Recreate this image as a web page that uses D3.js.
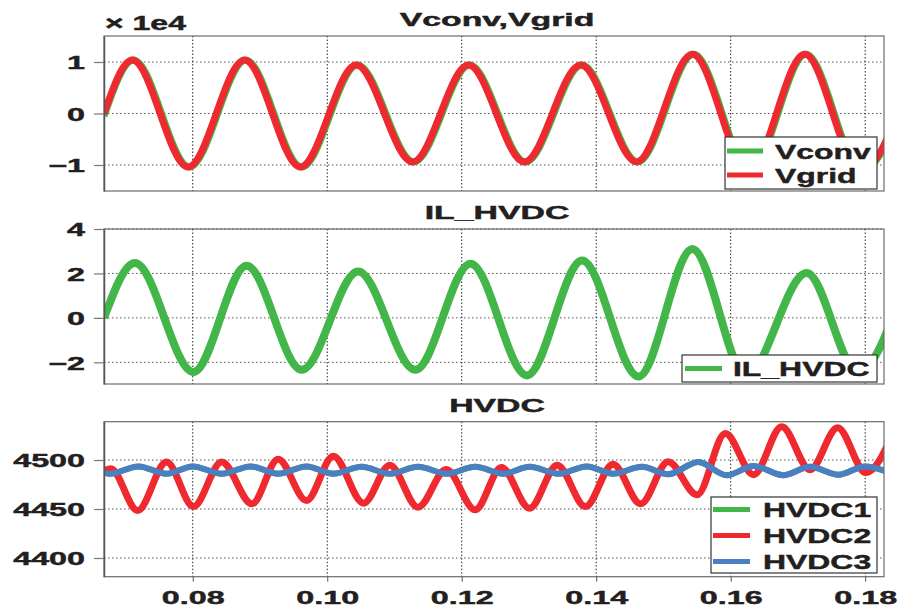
<!DOCTYPE html>
<html>
<head>
<meta charset="utf-8">
<script src="https://cdn.jsdelivr.net/npm/d3@7"></script>
<style>
	body { margin: 0; background: #fff; }
	svg text {
		font-family: 'Liberation Sans', Arial, sans-serif;
		font-weight: bold;
		fill: #231f20;
		stroke: #231f20;
		stroke-width: 0.45px;
	}
</style>
</head>
<body>
<svg id="chart"></svg>
<script>
// time axis
const xTicks = [0.08, 0.1, 0.12, 0.14, 0.16, 0.18];

// Vconv, Vgrid (x 1e4) : [time, value] at start and at each peak / trough
const vgrid = [
	[0.0668, 0.0], [0.0710, 1.04], [0.0793, -1.04], [0.0877, 1.04], [0.0960, -1.04],
	[0.1043, 0.94], [0.1127, -0.94], [0.1210, 0.94], [0.1293, -0.94], [0.1377, 0.94],
	[0.1460, -0.94], [0.1543, 1.15], [0.1627, -1.12], [0.1710, 1.15], [0.1793, -1.12],
	[0.1877, 1.15]
];
const vconv = [
	[0.0668, -0.05], [0.0712, 1.04], [0.0795, -1.04], [0.0879, 1.04], [0.0962, -1.04],
	[0.1045, 0.94], [0.1129, -0.94], [0.1212, 0.94], [0.1295, -0.94], [0.1379, 0.94],
	[0.1462, -0.94], [0.1545, 1.15], [0.1629, -1.12], [0.1712, 1.15], [0.1795, -1.12],
	[0.1879, 1.15]
];

// IL_HVDC
const ilHvdc = [
	[0.0668, 0.0], [0.0714, 2.47], [0.0801, -2.44], [0.0880, 2.35], [0.0962, -2.34],
	[0.1046, 2.09], [0.1131, -2.34], [0.1213, 2.44], [0.1297, -2.59], [0.1379, 2.58],
	[0.1463, -2.64], [0.1543, 3.1], [0.1623, -2.6], [0.1713, 2.02], [0.1789, -2.45],
	[0.1866, 2.3]
];

// HVDC1..3
const hvdc2 = [
	[0.0668, 4489], [0.0678, 4491], [0.0718, 4448.5], [0.0761, 4498], [0.0801, 4452.5],
	[0.0843, 4498], [0.0888, 4455.3], [0.0927, 4500.8], [0.0969, 4458.7], [0.1009, 4503.9],
	[0.1054, 4455.9], [0.1093, 4494.7], [0.1135, 4451.8], [0.1177, 4490.3], [0.1220, 4449.2],
	[0.1259, 4492.3], [0.1301, 4450.8], [0.1342, 4494.7], [0.1384, 4452.5], [0.1425, 4495.7],
	[0.1466, 4455.3], [0.1507, 4498.2], [0.1550, 4464.5], [0.1592, 4527], [0.1634, 4485],
	[0.1676, 4534], [0.1718, 4490], [0.1759, 4533], [0.1801, 4487], [0.1843, 4530]
];
const hvdc3 = [
	[0.0668, 4487], [0.0677, 4486], [0.0719, 4493.5], [0.0761, 4486], [0.0800, 4493.5],
	[0.0843, 4486], [0.0886, 4493.5], [0.0927, 4486], [0.0969, 4493.5], [0.1009, 4486],
	[0.1051, 4493], [0.1093, 4486], [0.1135, 4493], [0.1178, 4486], [0.1220, 4493],
	[0.1262, 4486], [0.1301, 4493], [0.1344, 4486], [0.1386, 4493.5], [0.1425, 4486],
	[0.1468, 4493], [0.1507, 4485.5], [0.1552, 4498], [0.1594, 4484.5], [0.1634, 4494],
	[0.1678, 4484.5], [0.1718, 4493], [0.1760, 4485], [0.1800, 4493.5], [0.1843, 4485]
];
const hvdc1 = [
	[0.0668, 4487], [0.0677, 4486], [0.0719, 4493.5], [0.0761, 4486], [0.0800, 4493.5],
	[0.0843, 4486], [0.0886, 4493.5], [0.0927, 4486], [0.0969, 4493.5], [0.1009, 4486],
	[0.1051, 4493], [0.1093, 4486], [0.1135, 4493], [0.1178, 4486], [0.1220, 4493],
	[0.1262, 4486], [0.1301, 4493], [0.1344, 4486], [0.1386, 4493.5], [0.1425, 4486],
	[0.1468, 4493], [0.1507, 4485.5], [0.1552, 4498], [0.1594, 4484.5], [0.1634, 4494],
	[0.1678, 4484.5], [0.1718, 4493], [0.1760, 4485], [0.1800, 4493.5], [0.1843, 4485]
];

const topTicks = [-1, 0, 1];
const midTicks = [-2, 0, 2, 4];
const botTicks = [4400, 4450, 4500];

const GREEN = '#43b649';
const RED = '#ee2a30';
const BLUE = '#4a7fc2';

const width = 901;
const height = 609;
const left = 104;
const right = 884;
const TICK_SX = 1.7; // labels in the source image are stretched sideways

const svg = d3.select('#chart').attr('width', width).attr('height', height);

const x = d3.scaleLinear().domain([0.0668, 0.1828]).range([left, right]);

const panels = [
	{
		id: 'p1', top: 36, bottom: 191, domain: [-1.505, 1.505], ticks: topTicks,
		title: 'Vconv,Vgrid', titleY: 26,
		series: [
			{ name: 'Vconv', data: vconv, color: GREEN, w: 7 },
			{ name: 'Vgrid', data: vgrid, color: RED, w: 7 },
		],
		legend: { x: 725, y: 137, w: 152, h: 52, rows: [151, 175], lineX: [727, 763], textX: 775 },
	},
	{
		id: 'p2', top: 229, bottom: 384, domain: [-2.976, 4], ticks: midTicks,
		title: 'IL_HVDC', titleY: 219,
		series: [{ name: 'IL_HVDC', data: ilHvdc, color: GREEN, w: 8 }],
		legend: { x: 682, y: 355, w: 195, h: 27, rows: [368.5], lineX: [685, 722], textX: 733 },
	},
	{
		id: 'p3', top: 421.7, bottom: 576.7, domain: [4380.9, 4539.1], ticks: botTicks,
		title: 'HVDC', titleY: 411.5, xLabels: true,
		series: [
			{ name: 'HVDC1', data: hvdc1, color: GREEN, w: 6 },
			{ name: 'HVDC2', data: hvdc2, color: RED, w: 7 },
			{ name: 'HVDC3', data: hvdc3, color: BLUE, w: 6 },
		],
		legend: { x: 711, y: 497, w: 166, h: 76, rows: [509.5, 535.5, 561.5], lineX: [713, 750], textX: 763 },
	},
];

function stretchedText(g, txt, tx, ty, size, sx, anchor) {
	return g.append('text')
		.attr('transform', `translate(${tx},${ty}) scale(${sx},1)`)
		.attr('text-anchor', anchor || 'start')
		.style('font-size', size + 'px')
		.text(txt);
}

panels.forEach((p) => {
	const y = d3.scaleLinear().domain(p.domain).range([p.bottom, p.top]);
	const g = svg.append('g').attr('class', 'panel');

	// clip for the traces
	svg.append('clipPath').attr('id', 'clip-' + p.id)
		.append('rect')
		.attr('x', left).attr('y', p.top)
		.attr('width', right - left).attr('height', p.bottom - p.top);

	// grid
	g.append('g').selectAll('line.hgrid')
		.data(p.ticks)
		.join('line')
		.attr('x1', left).attr('x2', right)
		.attr('y1', (d) => y(d)).attr('y2', (d) => y(d))
		.attr('stroke', '#555')
		.attr('stroke-width', 1)
		.attr('stroke-dasharray', '1.5,2.5');
	g.append('g').selectAll('line.vgrid')
		.data(xTicks)
		.join('line')
		.attr('x1', (d) => x(d)).attr('x2', (d) => x(d))
		.attr('y1', p.top).attr('y2', p.bottom)
		.attr('stroke', '#222')
		.attr('stroke-width', 1)
		.attr('stroke-dasharray', '1.5,2');

	// traces
	const line = d3.line()
		.x((d) => x(d[0]))
		.y((d) => y(d[1]))
		.curve(d3.curveMonotoneX);
	const traces = g.append('g').attr('clip-path', `url(#clip-${p.id})`);
	p.series.forEach((s) => {
		traces.append('path')
			.datum(s.data)
			.attr('fill', 'none')
			.attr('stroke', s.color)
			.attr('stroke-width', s.w)
			.attr('stroke-linejoin', 'round')
			.attr('d', line);
	});

	// frame
	g.append('rect')
		.attr('x', left).attr('y', p.top)
		.attr('width', right - left).attr('height', p.bottom - p.top)
		.attr('fill', 'none')
		.attr('stroke', '#6b6b6b')
		.attr('stroke-width', 1.2);

	// y axis
	const yAxis = d3.axisLeft(y).tickValues(p.ticks).tickSize(10).tickSizeOuter(0).tickFormat(d3.format('d'));
	const yAxisG = g.append('g')
		.attr('transform', `translate(${left},0)`)
		.call(yAxis);
	yAxisG.attr('font-family', null).attr('font-size', null);
	yAxisG.select('.domain').attr('stroke', '#555').attr('stroke-width', 1.5);
	yAxisG.selectAll('.tick line').attr('stroke', '#777').attr('stroke-width', 1.2);
	yAxisG.selectAll('.tick text')
		.attr('x', -19 / TICK_SX)
		.attr('dy', '0.36em')
		.attr('transform', `scale(${TICK_SX},1)`)
		.style('font-size', '19px');

	// x axis labels only on the last panel
	if (p.xLabels) {
		const xAxis = d3.axisBottom(x).tickValues(xTicks).tickSize(5).tickSizeOuter(0).tickFormat(d3.format('.2f'));
		const xAxisG = g.append('g')
			.attr('transform', `translate(0,${p.bottom})`)
			.call(xAxis);
		xAxisG.attr('font-family', null).attr('font-size', null);
		xAxisG.select('.domain').remove();
		xAxisG.selectAll('.tick line').attr('stroke', '#555');
		xAxisG.selectAll('.tick text')
			.attr('y', 27)
			.attr('dy', 0)
			.attr('transform', `scale(${TICK_SX},1)`)
			.style('font-size', '19px');
	}

	// title
	stretchedText(g, p.title, 497, p.titleY, 19, 1.78, 'middle');

	// legend
	const L = p.legend;
	const lg = g.append('g').attr('class', 'legend');
	lg.append('rect')
		.attr('x', L.x).attr('y', L.y)
		.attr('width', L.w).attr('height', L.h)
		.attr('fill', '#fff')
		.attr('stroke', '#333')
		.attr('stroke-width', 1.2);
	p.series.forEach((s, i) => {
		lg.append('line')
			.attr('x1', L.lineX[0]).attr('x2', L.lineX[1])
			.attr('y1', L.rows[i]).attr('y2', L.rows[i])
			.attr('stroke', s.color)
			.attr('stroke-width', 5);
		stretchedText(lg, s.name, L.textX, L.rows[i] + 7.5, 21, 1.52);
	});
});

// exponent label of the first panel
stretchedText(svg, '× 1e4', 105, 30, 20, 1.6);
</script>
</body>
</html>
